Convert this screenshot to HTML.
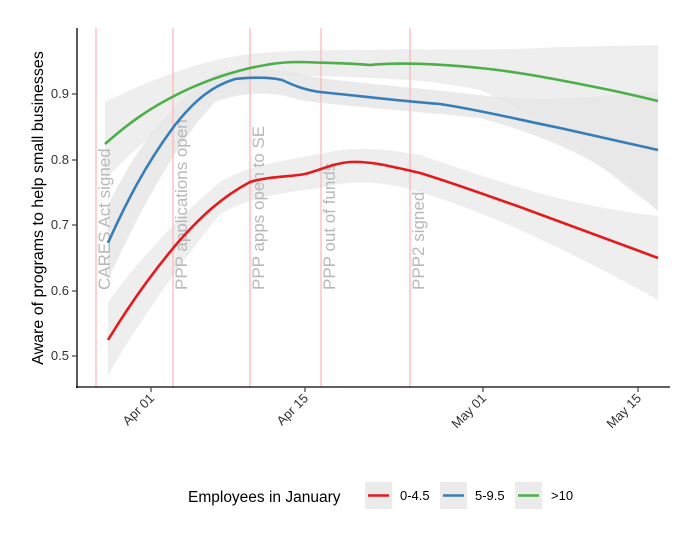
<!DOCTYPE html>
<html><head><meta charset="utf-8"><style>body{margin:0;background:#fff}</style></head><body>
<svg width="683" height="529" xmlns="http://www.w3.org/2000/svg" font-family="Liberation Sans, Arial, sans-serif">
<rect width="683" height="529" fill="#fff"/>
<!-- bands -->
<path d="M105,102 C150,80 200,60 250,54 C290,50 330,50 370,50 C420,48 480,52 560,47 L658,45 L658,210 C600,170 560,125 480,90 C440,82 420,80 370,78 C330,76 290,74 250,80 C200,100 150,130 105,180 Z" fill="#ebebeb" opacity="0.85"/>
<path d="M108,205 C140,140 175,100 215,74 C250,66 275,67 300,74 C320,80 400,86 480,95 C560,105 620,92 658,92 L658,212 C620,170 560,140 480,118 C400,110 320,104 300,100 C275,92 250,90 215,102 C175,145 140,210 108,280 Z" fill="#e6e6e6" opacity="0.85"/>
<path d="M108,302 C140,258 180,216 220,182 C250,164 290,160 320,154 C350,146 380,148 420,155 C480,175 560,205 658,216 L658,300 C560,245 480,210 420,192 C380,180 350,180 320,188 C290,192 250,196 220,214 C180,264 140,320 108,375 Z" fill="#ebebeb" opacity="0.85"/>
<!-- vlines -->
<g stroke="#ffb3b3" stroke-width="1.2">
<line x1="96" y1="28" x2="96" y2="387"/><line x1="173" y1="28" x2="173" y2="387"/><line x1="250" y1="28" x2="250" y2="387"/><line x1="321" y1="28" x2="321" y2="387"/><line x1="410" y1="28" x2="410" y2="387"/></g>
<g fill="#b8b8b8" font-size="17">
<text transform="translate(110,290) rotate(-90)">CARES Act signed</text>
<text transform="translate(187,290) rotate(-90)">PPP applications open</text>
<text transform="translate(264,290) rotate(-90)">PPP apps open to SE</text>
<text transform="translate(335,290) rotate(-90)">PPP out of funds</text>
<text transform="translate(424,290) rotate(-90)">PPP2 signed</text></g>
<!-- curves -->
<g fill="none" stroke-width="2.6">
<path stroke="#4daf4a" d="M105,144 C130,122 150,108 178,94 C200,83 225,74 250,68 C270,64 280,62 300,62 C330,63 350,63 370,65 C400,62 440,64 480,68 C520,72 560,80 600,88 C630,94 645,98 658,101"/>
<path stroke="#377eb8" d="M108,243 C125,205 145,165 175,125 C195,100 212,86 235,79 C255,77 270,77 282,80 C295,86 305,90 320,92 C360,96 400,101 440,104 C480,110 520,120 560,128 C600,137 630,144 658,150"/>
<path stroke="#e41a1c" d="M108,340 C125,312 150,275 180,240 C200,218 220,198 250,182 C270,176 290,177 305,174 C320,170 335,163 350,162 C370,161 390,166 420,173 C450,182 480,193 520,207 C560,222 610,240 658,258"/>
</g>
<!-- axes -->
<g stroke="#000" stroke-width="1.3"><line x1="77" y1="28" x2="77" y2="388"/><line x1="76" y1="387" x2="670" y2="387"/></g>
<g stroke="#333" stroke-width="1.1">
<line x1="72" y1="356" x2="77" y2="356"/><line x1="72" y1="291" x2="77" y2="291"/><line x1="72" y1="225" x2="77" y2="225"/><line x1="72" y1="160" x2="77" y2="160"/><line x1="72" y1="94" x2="77" y2="94"/>
<line x1="151" y1="387" x2="151" y2="392"/><line x1="305" y1="387" x2="305" y2="392"/><line x1="483" y1="387" x2="483" y2="392"/><line x1="638" y1="387" x2="638" y2="392"/></g>
<g font-size="13" fill="#333" text-anchor="end">
<text x="69" y="360">0.5</text><text x="69" y="295">0.6</text><text x="69" y="229">0.7</text><text x="69" y="164">0.8</text><text x="69" y="98">0.9</text>
<text transform="translate(155,399) rotate(-45)">Apr 01</text><text transform="translate(309,399) rotate(-45)">Apr 15</text><text transform="translate(487,399) rotate(-45)">May 01</text><text transform="translate(642,399) rotate(-45)">May 15</text></g>
<text transform="translate(43,208) rotate(-90)" text-anchor="middle" font-size="16" fill="#000">Aware of programs to help small businesses</text>
<!-- legend -->
<text x="188" y="502" font-size="15.5" fill="#000">Employees in January</text>
<rect x="365" y="482" width="27" height="27" fill="#ebebeb"/><line x1="368" y1="495.5" x2="389" y2="495.5" stroke="#e41a1c" stroke-width="2.6"/>
<text x="400" y="500" font-size="13" fill="#000">0-4.5</text>
<rect x="440" y="482" width="27" height="27" fill="#ebebeb"/><line x1="443" y1="495.5" x2="464" y2="495.5" stroke="#377eb8" stroke-width="2.6"/>
<text x="475" y="500" font-size="13" fill="#000">5-9.5</text>
<rect x="515" y="482" width="27" height="27" fill="#ebebeb"/><line x1="518" y1="495.5" x2="539" y2="495.5" stroke="#4daf4a" stroke-width="2.6"/>
<text x="551" y="500" font-size="13" fill="#000">&gt;10</text>
</svg>
</body></html>
